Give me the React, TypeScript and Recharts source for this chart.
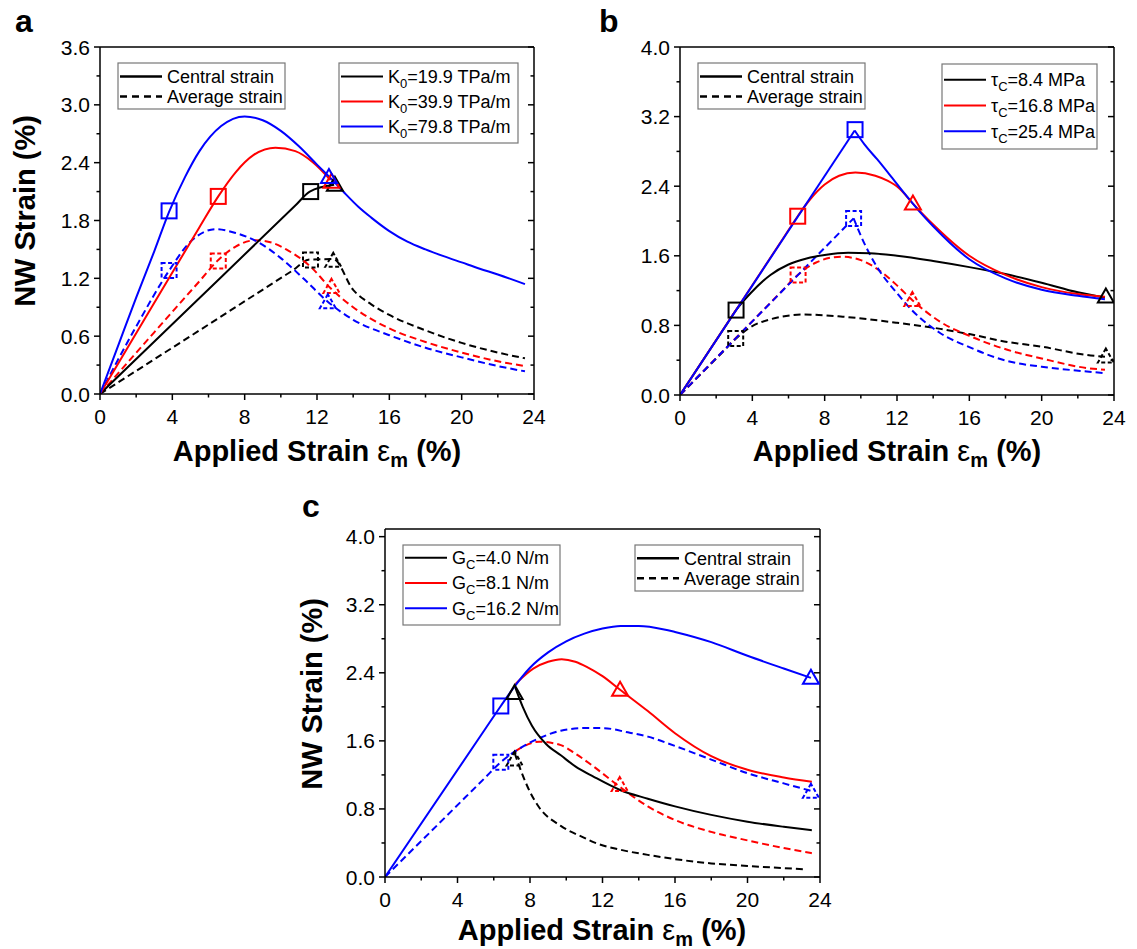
import { ComposedChart, Line, Scatter, XAxis, YAxis } from 'recharts'
import type { ReactNode } from 'react'

type Pt = [number, number]
type MaybePt = Pt | null

const FONT = '"Liberation Sans", Arial, Helvetica, sans-serif'
const BLACK = '#000000'
const RED = '#ff0000'
const BLUE = '#0000ff'
const seriesColors = [BLACK, RED, BLUE]

// shared x axis
const xTicks = [0, 2, 4, 6, 8, 10, 12, 14, 16, 18, 20, 22, 24]
const xLabels = [0, 4, 8, 12, 16, 20, 24]

// panel a (K0)
const aYTicks = [0, 0.3, 0.6, 0.9, 1.2, 1.5, 1.8, 2.1, 2.4, 2.7, 3.0, 3.3, 3.6]
const aYLabels = [0, 0.6, 1.2, 1.8, 2.4, 3.0, 3.6]
const aBlackSolid: Pt[] = [[0, 0], [5, 0.905], [10.8, 1.955], [11.6, 2.1], [12.95, 2.17]]
const aRedSolid: Pt[] = [[0, 0], [2, 0.63], [4, 1.26], [5.5, 1.73], [6.54, 2.05], [7.5, 2.3], [8.5, 2.48], [9.7, 2.555], [10.8, 2.52], [11.8, 2.4], [12.75, 2.22]]
const aBlueSolid: Pt[] = [[0, 0], [1, 0.5], [2, 1.0], [3, 1.48], [3.82, 1.89], [4.7, 2.25], [5.5, 2.52], [6.7, 2.78], [8, 2.88], [9, 2.84], [10, 2.73], [11, 2.57], [12, 2.38], [12.7, 2.25], [13.5, 2.09], [14.3, 1.94], [15, 1.83], [16, 1.69], [17, 1.58], [18, 1.5], [19, 1.43], [20, 1.365], [21, 1.3], [22, 1.24], [23.5, 1.14]]
const aBlackDash: Pt[] = [[0, 0], [5, 0.6], [10.6, 1.275], [11.6, 1.395], [12.9, 1.4], [14, 1.08], [15, 0.93], [16, 0.82], [18, 0.66], [20, 0.53], [22, 0.43], [23.5, 0.37]]
const aRedDash: Pt[] = [[0, 0], [3, 0.64], [5.5, 1.17], [6.54, 1.39], [7.5, 1.53], [8.6, 1.595], [9.5, 1.57], [10.3, 1.5], [11.65, 1.32], [12.74, 1.1], [14, 0.9], [16, 0.68], [18, 0.54], [20, 0.43], [22, 0.34], [23.5, 0.29]]
const aBlueDash: Pt[] = [[0, 0], [2, 0.7], [3.82, 1.28], [5, 1.58], [6.4, 1.71], [7.5, 1.67], [8.7, 1.58], [10, 1.41], [11.3, 1.19], [12.64, 0.95], [14, 0.77], [16, 0.61], [18, 0.48], [20, 0.38], [22, 0.29], [23.5, 0.235]]
// markers, order black / red / blue
const aSolidSquares: MaybePt[] = [[11.65, 2.1], [6.54, 2.05], [3.82, 1.9]]
const aSolidTriangles: MaybePt[] = [[12.99, 2.17], [12.8, 2.2], [12.66, 2.25]]
const aDashSquares: MaybePt[] = [[11.64, 1.39], [6.54, 1.38], [3.82, 1.28]]
const aDashTriangles: MaybePt[] = [[12.9, 1.38], [12.8, 1.11], [12.6, 0.95]]

// panel b (tau_c)
const bYTicks = [0, 0.4, 0.8, 1.2, 1.6, 2.0, 2.4, 2.8, 3.2, 3.6, 4.0]
const bYLabels = [0, 0.8, 1.6, 2.4, 3.2, 4.0]
const bBlackSolid: Pt[] = [[0, 0], [2.5, 0.787], [3.1, 0.976], [3.9, 1.17], [5, 1.38], [6, 1.5], [7, 1.57], [8, 1.61], [9.3, 1.635], [10.5, 1.63], [12, 1.6], [14, 1.54], [16, 1.47], [18, 1.39], [20, 1.29], [22, 1.18], [23.5, 1.12]]
const bRedSolid: Pt[] = [[0, 0], [5.6, 1.767], [6.51, 2.055], [7.2, 2.25], [8, 2.42], [8.8, 2.52], [9.7, 2.557], [10.8, 2.52], [11.5, 2.46], [12.1, 2.38], [12.88, 2.2], [14, 1.96], [16, 1.6], [18, 1.38], [20, 1.24], [22, 1.16], [23.5, 1.13]]
const bBlueSolidUp: Pt[] = [[0, 0], [9.66, 3.04]]
const bBlueSolidDown: Pt[] = [[9.66, 3.04], [10.2, 2.88], [10.9, 2.71], [11.6, 2.53], [12.4, 2.32], [13.2, 2.12], [14, 1.94], [16, 1.56], [18, 1.34], [20, 1.21], [22, 1.14], [23.5, 1.1]]
const bBlackDash: Pt[] = [[0, 0], [2.5, 0.524], [3.1, 0.65], [3.9, 0.78], [5, 0.87], [6.9, 0.925], [9, 0.9], [12, 0.83], [14.4, 0.76], [16, 0.7], [18.1, 0.61], [20, 0.555], [22.5, 0.46], [23.5, 0.44]]
const bRedDash: Pt[] = [[0, 0], [5.6, 1.187], [6.51, 1.38], [7.5, 1.52], [8.9, 1.59], [10, 1.55], [10.9, 1.45], [12, 1.26], [12.85, 1.09], [14.4, 0.84], [16, 0.68], [18.1, 0.52], [20, 0.42], [22.5, 0.31], [23.5, 0.29]]
const bBlueDashUp: Pt[] = [[0, 0], [9.6, 2.03]]
const bBlueDashDown: Pt[] = [[9.6, 2.03], [10.2, 1.74], [10.9, 1.47], [12, 1.17], [12.8, 0.98], [14.4, 0.71], [16, 0.55], [18.1, 0.39], [20, 0.325], [22.5, 0.27], [23.5, 0.25]]
const bSolidSquares: MaybePt[] = [[3.1, 0.976], [6.51, 2.055], [9.68, 3.05]]
const bSolidTriangles: MaybePt[] = [[23.55, 1.13], [12.88, 2.2], null]
const bDashSquares: MaybePt[] = [[3.08, 0.65], [6.53, 1.38], [9.6, 2.03]]
const bDashTriangles: MaybePt[] = [[23.55, 0.44], [12.85, 1.09], null]

// panel c (G_c)
const cBlackSolid: Pt[] = [[7.15, 2.25], [7.6, 2.0], [8.1, 1.78], [8.9, 1.56], [9.7, 1.43], [10.5, 1.3], [11.5, 1.18], [13, 1.02], [14.5, 0.92], [16, 0.83], [18, 0.73], [20, 0.65], [22, 0.59], [23.55, 0.55]]
const cRedSolid: Pt[] = [[7.2, 2.27], [8.18, 2.45], [9, 2.53], [9.75, 2.56], [10.5, 2.53], [11.13, 2.47], [12, 2.36], [12.97, 2.2], [14.5, 1.95], [16, 1.69], [18, 1.42], [20, 1.26], [22, 1.17], [23.55, 1.12]]
const cBlueSolid: Pt[] = [[0, 0], [5.5, 1.73], [6.39, 2.01], [7.08, 2.22], [8, 2.46], [9, 2.64], [10, 2.77], [11, 2.86], [12, 2.92], [13, 2.95], [14, 2.95], [15.4, 2.91], [16, 2.88], [18, 2.76], [20, 2.6], [22, 2.45], [23.5, 2.34]]
const cBlackDash: Pt[] = [[7.15, 1.46], [7.5, 1.25], [8, 1.0], [8.5, 0.82], [9.7, 0.6], [11, 0.46], [11.5, 0.41], [13, 0.32], [14.5, 0.26], [16, 0.21], [18, 0.16], [20, 0.13], [23.2, 0.09]]
const cRedDash: Pt[] = [[7.2, 1.48], [8.5, 1.59], [9.7, 1.55], [10.5, 1.45], [11.5, 1.3], [12.95, 1.06], [14.5, 0.83], [16, 0.67], [18, 0.53], [20, 0.43], [22, 0.34], [23.55, 0.28]]
const cBlueDash: Pt[] = [[0, 0], [5.5, 1.162], [6.39, 1.35], [7.2, 1.48], [8.5, 1.63], [9.7, 1.72], [11, 1.75], [12, 1.75], [13.4, 1.7], [14.5, 1.65], [16, 1.54], [18, 1.38], [20, 1.22], [22, 1.1], [23.55, 1.01]]
const cSolidSquares: MaybePt[] = [null, null, [6.39, 2.01]]
const cSolidTriangles: MaybePt[] = [[7.15, 2.16], [12.97, 2.2], [23.5, 2.34]]
const cDashSquares: MaybePt[] = [null, null, [6.39, 1.35]]
const cDashTriangles: MaybePt[] = [[7.15, 1.38], [12.95, 1.08], [23.5, 1.0]]

// legend texts
const styleLabels = ['Central strain', 'Average strain']
const aParamValues = ['=19.9 TPa/m', '=39.9 TPa/m', '=79.8 TPa/m']
const bParamValues = ['=8.4 MPa', '=16.8 MPa', '=25.4 MPa']
const cParamValues = ['=4.0 N/m', '=8.1 N/m', '=16.2 N/m']

interface Curve { pts: Pt[]; color: string; dashed?: boolean }
interface Box { left: number; top: number; width: number; height: number }
interface Plot { left: number; top: number; right: number; bottom: number }

const toRows = (pts: Pt[]) => pts.map(([x, y]) => ({ x, y }))
const isLabel = (v: number, labels: number[]) => labels.some((l) => Math.abs(l - v) < 1e-6)

function AxisTick(props: any) {
  const { x, y, payload, side, labels } = props
  const v = payload.value as number
  const major = isLabel(v, labels)
  const len = major ? 6 : 3.5
  let x2 = x
  let y2 = y
  if (side === 'bottom' || side === 'top') y2 = y + len
  else x2 = x - len
  return (
    <g>
      <line x1={x} y1={y} x2={x2} y2={y2} stroke="#000" strokeWidth={1.5} />
      {major && side === 'bottom' && (
        <text x={x} y={y + 30} textAnchor="middle" fontSize={21} fontFamily={FONT} fill="#000">{v}</text>
      )}
      {major && side === 'left' && (
        <text x={x - 10} y={y + 7.5} textAnchor="end" fontSize={21} fontFamily={FONT} fill="#000">{v.toFixed(1)}</text>
      )}
    </g>
  )
}

function markerShape(kind: 'square' | 'triangle', color: string, dashed: boolean) {
  return (p: any) => {
    const { cx, cy } = p
    if (cx == null || cy == null) return <g />
    const dash = dashed ? '4 2.5' : undefined
    if (kind === 'square') {
      return <rect x={cx - 7.5} y={cy - 7.5} width={15} height={15} fill="none" stroke={color} strokeWidth={2} strokeDasharray={dash} />
    }
    const w = 16
    const h = 14
    const pts = `${cx},${cy - h * 0.58} ${cx - w / 2},${cy + h * 0.42} ${cx + w / 2},${cy + h * 0.42}`
    return <polygon points={pts} fill="none" stroke={color} strokeWidth={2} strokeDasharray={dash} strokeLinejoin="miter" />
  }
}

function markerSeries(list: MaybePt[], kind: 'square' | 'triangle', dashed: boolean, key: string) {
  return list.map((pt, i) =>
    pt ? (
      <Scatter
        key={`${key}-${i}`}
        data={toRows([pt])}
        dataKey="y"
        shape={markerShape(kind, seriesColors[i], dashed)}
        isAnimationActive={false}
      />
    ) : null,
  )
}

function Panel({ box, plot, yMax, yTicks, yLabels, curves, squares, triangles, dashSquares, dashTriangles }: {
  box: Box; plot: Plot; yMax: number; yTicks: number[]; yLabels: number[]; curves: Curve[]
  squares: MaybePt[]; triangles: MaybePt[]; dashSquares: MaybePt[]; dashTriangles: MaybePt[]
}) {
  // every axis is 1px thick, so the plot box keeps its pixel edges
  const margin = {
    left: plot.left - box.left - 1,
    top: plot.top - box.top - 1,
    right: box.left + box.width - plot.right - 1,
    bottom: box.top + box.height - plot.bottom - 1,
  }
  const frame = { stroke: '#000', strokeWidth: 1.5 }
  return (
    <div style={{ position: 'absolute', left: box.left, top: box.top }}>
      <ComposedChart width={box.width} height={box.height} margin={margin}>
        <XAxis type="number" dataKey="x" domain={[0, 24]} ticks={xTicks} interval={0} height={1}
          tickSize={0} tickMargin={0} tickLine={false} axisLine={frame} allowDataOverflow
          tick={<AxisTick side="bottom" labels={xLabels} />} />
        <XAxis xAxisId="top" orientation="top" type="number" domain={[0, 24]} ticks={xTicks} interval={0} height={1}
          tickSize={0} tickMargin={0} tickLine={false} axisLine={frame} allowDataOverflow
          tick={<AxisTick side="top" labels={xLabels} />} />
        <YAxis type="number" dataKey="y" domain={[0, yMax]} ticks={yTicks} interval={0} width={1}
          tickSize={0} tickMargin={0} tickLine={false} axisLine={frame} allowDataOverflow
          tick={<AxisTick side="left" labels={yLabels} />} />
        <YAxis yAxisId="right" orientation="right" type="number" domain={[0, yMax]} ticks={yTicks} interval={0} width={1}
          tickSize={0} tickMargin={0} tickLine={false} axisLine={frame} allowDataOverflow
          tick={<AxisTick side="right" labels={yLabels} />} />
        {curves.map((c, i) => (
          <Line
            key={i}
            data={toRows(c.pts)}
            dataKey="y"
            type="monotone"
            stroke={c.color}
            strokeWidth={2}
            strokeDasharray={c.dashed ? '7 4' : undefined}
            dot={false}
            activeDot={false}
            isAnimationActive={false}
          />
        ))}
        {markerSeries(dashSquares, 'square', true, 'ds')}
        {markerSeries(dashTriangles, 'triangle', true, 'dt')}
        {markerSeries(squares, 'square', false, 's')}
        {markerSeries(triangles, 'triangle', false, 't')}
      </ComposedChart>
    </div>
  )
}

interface LegendRow { color: string; dashed?: boolean; thick?: boolean; label: ReactNode }

function LegendBox({ x, y, w, h, padTop, rowH, rows }: { x: number; y: number; w: number; h: number; padTop: number; rowH: number; rows: LegendRow[] }) {
  return (
    <g>
      <rect x={x} y={y} width={w} height={h} fill="#fff" stroke="#777" strokeWidth={1.2} />
      {rows.map((r, i) => {
        const cy = y + padTop + rowH * (i + 0.5)
        return (
          <g key={i}>
            <line x1={x + 2} x2={x + 44} y1={cy} y2={cy} stroke={r.color} strokeWidth={r.thick ? 2.5 : 2}
              strokeDasharray={r.dashed ? '7 5' : undefined} />
            <text x={x + 49} y={cy + 6.4} fontSize={18} fontFamily={FONT} fill="#000">{r.label}</text>
          </g>
        )
      })}
    </g>
  )
}

const styleRows = (): LegendRow[] => styleLabels.map((label, i) => ({ color: BLACK, dashed: i === 1, thick: true, label }))
const paramRows = (sym: string, sub: string, values: string[]): LegendRow[] =>
  values.map((v, i) => ({
    color: seriesColors[i],
    label: (
      <>
        {sym}
        <tspan dy={5} fontSize={13}>{sub}</tspan>
        <tspan dy={-5}>{v}</tspan>
      </>
    ),
  }))

function XTitle({ cx, y }: { cx: number; y: number }) {
  return (
    <text x={cx} y={y} textAnchor="middle" fontSize={29} fontWeight="bold" fontFamily={FONT} fill="#000">
      Applied Strain <tspan fontWeight="normal">ε</tspan>
      <tspan dy={6} fontSize={20}>m</tspan>
      <tspan dy={-6}> (%)</tspan>
    </text>
  )
}

function YTitle({ x, cy }: { x: number; cy: number }) {
  return (
    <text x={x} y={cy} transform={`rotate(-90, ${x}, ${cy})`} textAnchor="middle" fontSize={29} fontWeight="bold" fontFamily={FONT} fill="#000">
      NW Strain (%)
    </text>
  )
}

function PanelLetter({ x, y, t }: { x: number; y: number; t: string }) {
  return <text x={x} y={y} fontSize={32} fontWeight="bold" fontFamily={FONT} fill="#000">{t}</text>
}

export default function App() {
  return (
    <div style={{ position: 'absolute', left: 0, top: 0, width: 1137, height: 949, background: '#fff', fontFamily: FONT }}>
      <Panel
        box={{ left: 0, top: 0, width: 570, height: 480 }}
        plot={{ left: 100, top: 47, right: 534, bottom: 394 }}
        yMax={3.6} yTicks={aYTicks} yLabels={aYLabels}
        curves={[
          { pts: aBlackDash, color: BLACK, dashed: true },
          { pts: aRedDash, color: RED, dashed: true },
          { pts: aBlueDash, color: BLUE, dashed: true },
          { pts: aBlackSolid, color: BLACK },
          { pts: aRedSolid, color: RED },
          { pts: aBlueSolid, color: BLUE },
        ]}
        squares={aSolidSquares} triangles={aSolidTriangles} dashSquares={aDashSquares} dashTriangles={aDashTriangles}
      />
      <Panel
        box={{ left: 570, top: 0, width: 567, height: 480 }}
        plot={{ left: 680, top: 47, right: 1114, bottom: 395 }}
        yMax={4} yTicks={bYTicks} yLabels={bYLabels}
        curves={[
          { pts: bBlackDash, color: BLACK, dashed: true },
          { pts: bRedDash, color: RED, dashed: true },
          { pts: bBlueDashUp, color: BLUE, dashed: true },
          { pts: bBlueDashDown, color: BLUE, dashed: true },
          { pts: bBlackSolid, color: BLACK },
          { pts: bRedSolid, color: RED },
          { pts: bBlueSolidUp, color: BLUE },
          { pts: bBlueSolidDown, color: BLUE },
        ]}
        squares={bSolidSquares} triangles={bSolidTriangles} dashSquares={bDashSquares} dashTriangles={bDashTriangles}
      />
      <Panel
        box={{ left: 290, top: 480, width: 560, height: 469 }}
        plot={{ left: 385, top: 529, right: 820, bottom: 877 }}
        yMax={4.09} yTicks={bYTicks} yLabels={bYLabels}
        curves={[
          { pts: cBlackDash, color: BLACK, dashed: true },
          { pts: cRedDash, color: RED, dashed: true },
          { pts: cBlueDash, color: BLUE, dashed: true },
          { pts: cBlackSolid, color: BLACK },
          { pts: cRedSolid, color: RED },
          { pts: cBlueSolid, color: BLUE },
        ]}
        squares={cSolidSquares} triangles={cSolidTriangles} dashSquares={cDashSquares} dashTriangles={cDashTriangles}
      />
      <svg width={1137} height={949} style={{ position: 'absolute', left: 0, top: 0, pointerEvents: 'none' }}>
        <PanelLetter x={15} y={32} t="a" />
        <PanelLetter x={599} y={32} t="b" />
        <PanelLetter x={302} y={517} t="c" />
        <YTitle x={35} cy={211} />
        <YTitle x={322} cy={694} />
        <XTitle cx={317} y={461} />
        <XTitle cx={897} y={461} />
        <XTitle cx={602} y={940} />
        <LegendBox x={118} y={63} w={167} h={46} padTop={3.5} rowH={20} rows={styleRows()} />
        <LegendBox x={339} y={63} w={179} h={80} padTop={1} rowH={25} rows={paramRows('K', '0', aParamValues)} />
        <LegendBox x={698} y={63} w={167} h={46} padTop={3.5} rowH={20} rows={styleRows()} />
        <LegendBox x={942} y={64} w={155} h={85} padTop={3} rowH={25.7} rows={paramRows('τ', 'C', bParamValues)} />
        <LegendBox x={403} y={545} w={157} h={80} padTop={0} rowH={25.3} rows={paramRows('G', 'C', cParamValues)} />
        <LegendBox x={635} y={545} w={168} h={46} padTop={3.3} rowH={20} rows={styleRows()} />
      </svg>
    </div>
  )
}
